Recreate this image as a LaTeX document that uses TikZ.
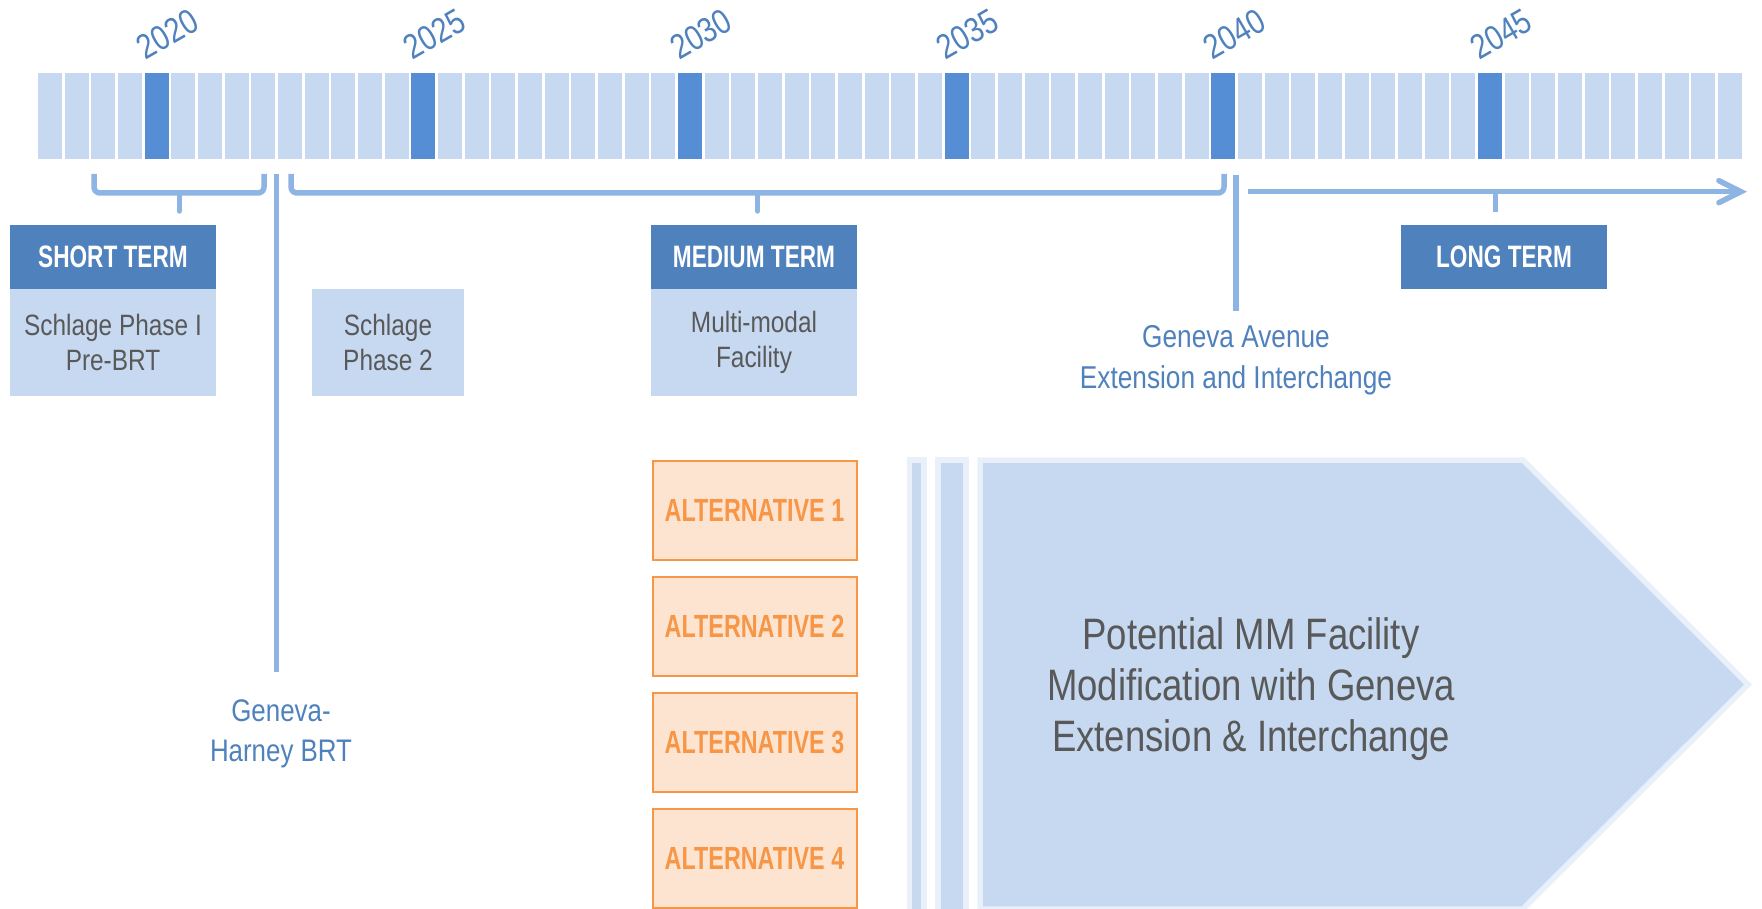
\documentclass[tikz,border=0pt]{standalone}
\usepackage{fontspec}
\setmainfont{Liberation Sans}[FakeStretch=0.83]
\newfontfamily\condbold{Liberation Sans}[FakeStretch=0.73]
\usepackage{tikz}
\usetikzlibrary{arrows.meta}
\usepackage{xcolor}
\definecolor{barlight}{RGB}{198,217,241}
\definecolor{bardark}{RGB}{85,142,213}
\definecolor{tlblue}{RGB}{141,180,226}
\definecolor{hdrblue}{RGB}{79,129,189}
\definecolor{txtgray}{RGB}{89,89,89}
\definecolor{altorange}{RGB}{247,150,70}
\definecolor{altfill}{RGB}{253,228,208}
\definecolor{stripedge}{RGB}{233,240,250}

\begin{document}
\begin{tikzpicture}[x=0.5pt, y=-0.5pt, node distance=42.65pt,
  hdr/.style={rectangle, fill=hdrblue, text=white, minimum width=103pt, minimum height=32pt, inner sep=0pt, font=\condbold\bfseries\fontsize{15.5}{18}\selectfont},
  body/.style={rectangle, fill=barlight, text=txtgray, minimum height=53.35pt, inner sep=0pt, align=center, font=\fontsize{14.7}{17.7}\selectfont},
  alt/.style={rectangle, draw=altorange, line width=1pt, fill=altfill, text=altorange, minimum width=102pt, minimum height=49.5pt, inner sep=0pt, font=\condbold\bfseries\fontsize{16}{18}\selectfont},
  tl/.style={draw=tlblue, line width=2.75pt},
  lbl/.style={text=hdrblue, align=center, inner sep=0pt, font=\fontsize{15.8}{20.3}\selectfont},
  year/.style={text=hdrblue, rotate=30, inner sep=0pt, font=\fontsize{17.4}{19}\selectfont},
  strip/.style={fill=barlight, draw=stripedge, line width=2.75pt}]
\path[use as bounding box, clip] (0,0) rectangle (1762,909);

\foreach \i in {0,...,63} {
  \pgfmathtruncatemacro\m{mod(\i,10)}
  \ifnum\m=4 \def\barcol{bardark}\else\def\barcol{barlight}\fi
  \fill[\barcol] ({38+\i*26.667},73.3) rectangle +(24,85.7);
}
\foreach \y [count=\k from 0] in {2020,2025,...,2045}
  \node[year] (y\y) at ({38+(4+10*\k)*26.667+23},34) {\y};

\node[hdr] (st) at (113,257) {SHORT TERM};
\node[body, minimum width=103pt, below of=st] (stb) {Schlage Phase I\\Pre-BRT};
\node[body, minimum width=76pt] (s2) at (388,342.3) {Schlage\\Phase 2};
\node[hdr] (mt) at (754,257) {MEDIUM TERM};
\node[body, minimum width=103pt, below of=mt] (mtb) {Multi-modal\\Facility};
\node[hdr] (lt) at (1504,257) {LONG TERM};

\node[lbl, anchor=north] (ga) at (1236,325) {Geneva Avenue\\Extension and Interchange};
\node[lbl, anchor=north, font=\fontsize{15.6}{20}\selectfont] (gh) at (281,699) {Geneva-\\Harney BRT};

\draw[tl, rounded corners=3pt] (94,174) |- (264,193) -- (264,174);
\draw[tl, line cap=round] (179.3,193) -- (179.3,211);
\coordinate (ghtop) at (276.7,174);
\draw[tl] (ghtop) -- ([yshift=13.5pt]ghtop |- gh.north);
\draw[tl, rounded corners=3pt] (291,174) |- (1224,193) -- (1224,174);
\draw[tl, line cap=round] (757.5,193) -- (757.5,211);
\coordinate (gatop) at (1236,175);
\draw[tl] (gatop) -- ([yshift=7pt]ga.north);
\draw[tl, -{Straight Barb[length=11pt, width=11pt, line cap=round]}] (1248,191.7) -- (1747,191.7);
\draw[tl] (1495.7,191.7) -- (1495.7,211.7);

\node[alt] (a1) at (754.5,510.5) {ALTERNATIVE 1};
\node[alt, below of=a1, node distance=58pt] (a2) {ALTERNATIVE 2};
\node[alt, below of=a2, node distance=58pt] (a3) {ALTERNATIVE 3};
\node[alt, below of=a3, node distance=58pt] (a4) {ALTERNATIVE 4};

\draw[strip] (909.5,460) rectangle (924,912);
\draw[strip] (938,460) rectangle (966,912);
\draw[strip] (980,460) -- (1523,460) -- (1748,684.5) -- (1523,909) -- (980,909) -- cycle;
\node[text=txtgray, align=center, font=\fontsize{22}{25.5}\selectfont] (mm) at (1251,689.5) {Potential MM Facility\\Modification with Geneva\\Extension \& Interchange};
\end{tikzpicture}
\end{document}
